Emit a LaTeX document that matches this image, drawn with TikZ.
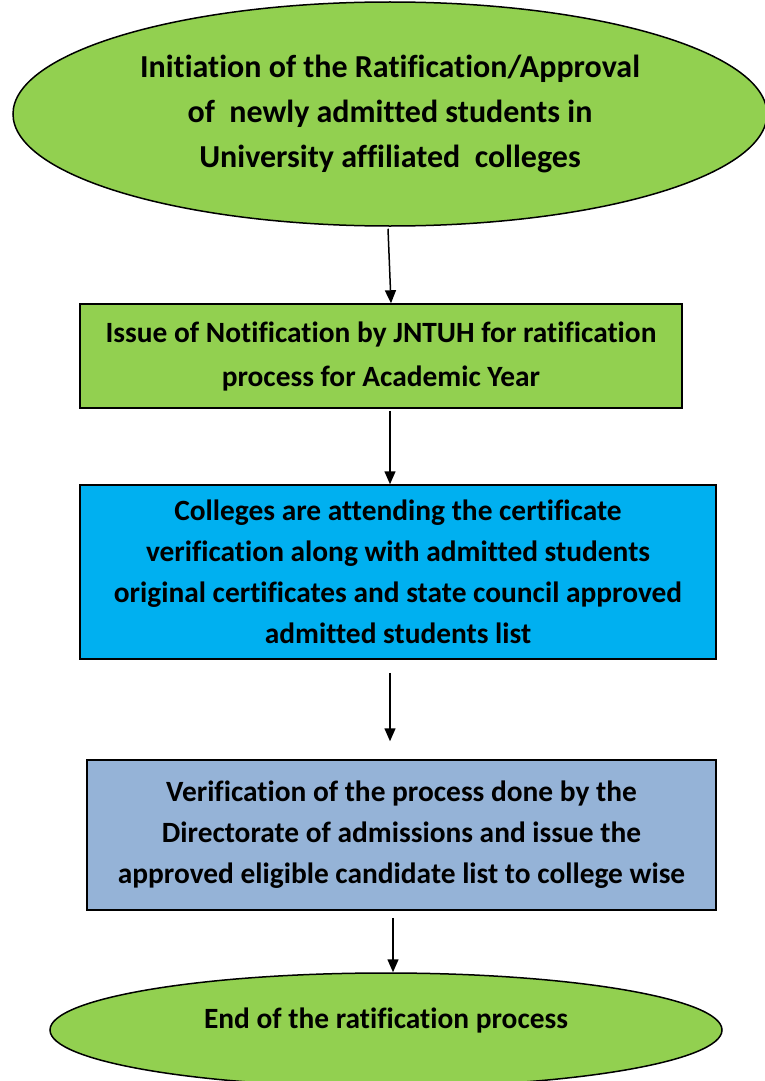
\documentclass[tikz,border=0pt]{standalone}
\usepackage{fontspec}
\setmainfont[Ligatures={NoCommon,NoRare,NoContextual}]{Carlito}
\usetikzlibrary{arrows.meta,calc,shapes.geometric}
\definecolor{leafgreen}{HTML}{92D050}
\definecolor{skyblue}{HTML}{00B0F0}
\definecolor{steelblue}{HTML}{95B3D7}
\tikzset{%
  >={Triangle[width=11pt,length=13pt]},
  % Specifications for style of nodes:
        base/.style = {draw=black, line width=1.5pt, align=center, inner sep=0pt,
                       font=\fontsize{29.4}{41}\selectfont\bfseries},
    terminal/.style = {base, ellipse, fill=leafgreen},
      stepbox/.style = {base, rectangle},
        flow/.style = {->, line width=1.5pt},
}

\begin{document}
\begin{tikzpicture}[x=1pt, y=-1pt]
  \clip (0,0) rectangle (765,1081);

  \node (start)    [terminal, minimum width=754pt, minimum height=224pt,
                    font=\fontsize{32}{45}\selectfont\bfseries] at (390,114)
        {Initiation of the Ratification/Approval\\ of~ newly admitted students in\\ University affiliated~ colleges};
  \node (notif)    [stepbox, fill=leafgreen, minimum width=602pt, minimum height=104pt,
                    font=\fontsize{29.4}{44}\selectfont\bfseries] at (381,356)
        {Issue of Notification by JNTUH for ratification\\ process for Academic Year};
  \node (colleges) [stepbox, fill=skyblue, minimum width=636pt, minimum height=174pt] at (398,572)
        {Colleges are attending the certificate\\ verification along with admitted students\\
         original certificates and state council approved\\ admitted students list};
  \node (verify)   [stepbox, fill=steelblue, minimum width=629pt, minimum height=150pt] at (401.5,835)
        {Verification of the process done by the\\ Directorate of admissions and issue the\\
         approved eligible candidate list to college wise};
  \node (finish)   [terminal, minimum width=672pt, minimum height=114pt,
                    text height=20pt, text depth=24pt] at (386,1030)
        {End of the ratification process};

  \draw[flow] ($ (start.south) + (-2,2) $)    -- ($ (notif.north) + (10,0) $);
  \draw[flow] ($ (notif.south) + (9,2) $)     -- ($ (colleges.north) + (-8,0) $);
  \draw[flow] ($ (colleges.south) + (-8,13) $) -- ($ (verify.north) + (-11.5,-18) $);
  \draw[flow] ($ (verify.south) + (-8.5,7) $)  -- ($ (finish.north) + (7,0) $);

\end{tikzpicture}
\end{document}
